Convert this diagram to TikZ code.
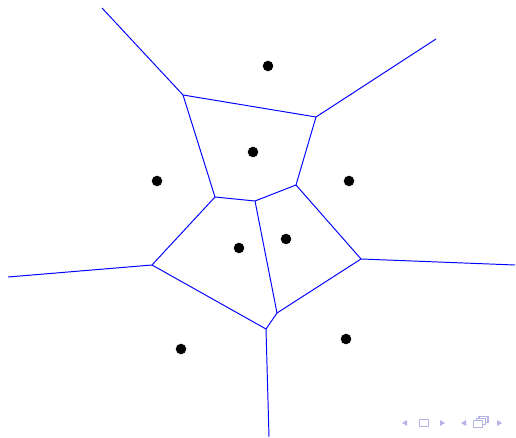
\documentclass[tikz,border=0pt]{standalone}
\usepackage{tikz}
\usetikzlibrary{calc}
\definecolor{cnav}{HTML}{B4B4E6}

\begin{document}
\begin{tikzpicture}[
  x=0.02cm, y=-0.02cm,
  site/.style={circle, fill=black, minimum size=6pt, inner sep=0pt},
  edge/.style={draw=blue, line width=0.55pt},
  navsym/.style={fill=cnav, draw=none}
]
\useasboundingbox (0,0) rectangle (516,438);

% ============================================================
% Sites of the diagram
\foreach \name/\px/\py in {s1/268/66, s2/253/152, s3/157/181, s4/349/181,
    s5/239/248, s6/286/239, s7/181/349, s8/346/339} {
  \node[site] (\name) at (\px,\py) {};
}

% Voronoi vertices and far ends of the unbounded edges
\coordinate (vH) at (183,95);
\coordinate (vI) at (316,117);
\coordinate (vA) at (215,197);
\coordinate (vB) at (255,201);
\coordinate (vC) at (296,185);
\coordinate (vD) at (152,265);
\coordinate (vE) at (361,259);
\coordinate (vF) at (277,313);
\coordinate (vG) at (266,329);
\coordinate (fH) at (102,8);
\coordinate (fI) at (436,39);
\coordinate (fD) at (8,277);
\coordinate (fE) at (515,265);
\coordinate (fG) at (269,437);

% ============================================================
% Cell boundaries
\foreach \a/\b in {fH/vH, vH/vI, vI/fI, vH/vA, vI/vC, vA/vB, vB/vC,
    vA/vD, vD/fD, vD/vG, vG/fG, vG/vF, vF/vB, vF/vE, vE/vC, vE/fE} {
  \draw[edge] (\a) -- (\b);
}

% ============================================================
% Navigation symbols (bottom right)
\fill[navsym] (402,423) -- (407,420) -- (407,426) -- cycle;
\draw[cnav, line width=0.6pt] (419.5,419.5) rectangle (428.5,426.5);
\fill[navsym] (445,423) -- (440,420) -- (440,426) -- cycle;
\fill[navsym] (461,423) -- (466,420) -- (466,426) -- cycle;
\draw[cnav, line width=0.6pt, fill=white] (479,416.5) rectangle (488,422.5);
\draw[cnav, line width=0.6pt, fill=white] (476.5,418.5) rectangle (485.5,424.5);
\draw[cnav, line width=0.6pt, fill=white] (473.5,420.5) rectangle (482.5,427.5);
\fill[navsym] (502,423) -- (497,420) -- (497,426) -- cycle;

\end{tikzpicture}
\end{document}
